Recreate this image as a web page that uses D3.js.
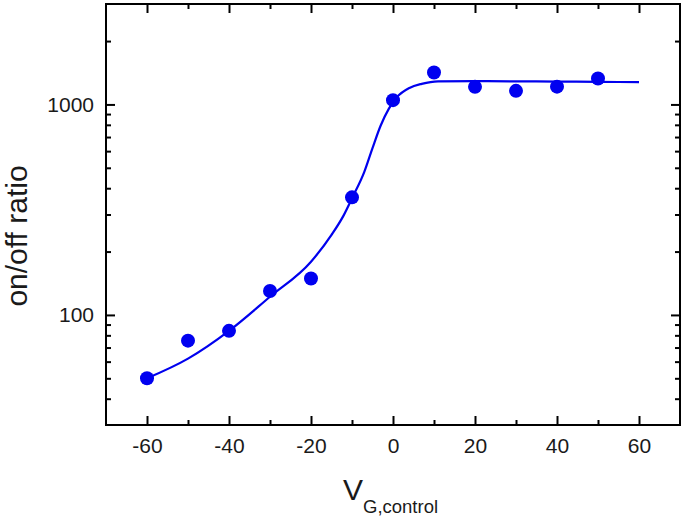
<!DOCTYPE html>
<html>
<head>
<meta charset="utf-8">
<script src="https://cdn.jsdelivr.net/npm/d3@7"></script>
<style>
  body { margin: 0; background: #fff; }
  svg { display: block; font-family: Arial, "Liberation Sans", sans-serif; }
</style>
</head>
<body>
<div id="chart"></div>
<script>
// Measured data points
const vgPoints = [-60, -50, -40, -30, -20, -10, 0, 10, 20, 30, 40, 50];
const ratioPoints = [50, 75.5, 84, 130, 149, 362, 1048, 1419, 1212, 1160, 1215, 1328];

// Fit line
const vgFit = [-60, -50, -40, -30, -20, -15, -12, -10, -7, -5, -3, -1, 1, 4, 7, 11, 20, 30, 40, 50, 60];
const ratioFit = [50, 62, 84, 122, 179, 240, 298, 358, 478, 620, 794, 955, 1084, 1197, 1253, 1288, 1290, 1287, 1284, 1280, 1276];

// Ticks
const xMajorTicks = [-60, -40, -20, 0, 20, 40, 60];
const xMinorTicks = [-50, -30, -10, 10, 30, 50];
const yMajorTicks = [100, 1000];
const yMinorTicks = [40, 50, 60, 70, 80, 90, 200, 300, 400, 500, 600, 700, 800, 900, 2000];

const width = 685;
const height = 516;
const margin = { top: 4, right: 5, bottom: 91, left: 106 };

const svg = d3.select("#chart")
    .append("svg")
    .attr("width", width)
    .attr("height", height);

const x = d3.scaleLinear()
    .domain([-70, 70])
    .range([margin.left, width - margin.right]);

const y = d3.scaleLog()
    .domain([30, 3000])
    .range([height - margin.bottom, margin.top]);

const plotH = height - margin.bottom - margin.top;
const plotW = width - margin.right - margin.left;
const plain = d => String(d); // keep ascii hyphen for negatives

// helper: draw an axis and strip its domain line
function addAxis(axis, tx, ty, labels) {
    const g = svg.append("g")
        .attr("transform", `translate(${tx},${ty})`)
        .call(axis);
    g.select(".domain").remove();
    g.selectAll(".tick line").attr("stroke", "#000").attr("stroke-width", 2);
    g.selectAll("text")
        .attr("fill", "#1a1a1a")
        .style("font-size", "21px");
    if (!labels) g.selectAll("text").remove();
    return g;
}

const yb = height - margin.bottom;
const xr = width - margin.right;

// bottom
addAxis(d3.axisBottom(x).tickValues(xMajorTicks).tickSize(-9).tickPadding(13).tickFormat(plain), 0, yb, true);
addAxis(d3.axisBottom(x).tickValues(xMinorTicks).tickSize(-5), 0, yb, false);
// top
addAxis(d3.axisTop(x).tickValues(xMajorTicks).tickSize(-9), 0, margin.top, false);
addAxis(d3.axisTop(x).tickValues(xMinorTicks).tickSize(-5), 0, margin.top, false);
// left
addAxis(d3.axisLeft(y).tickValues(yMajorTicks).tickSize(-9).tickPadding(12).tickFormat(plain), margin.left, 0, true);
addAxis(d3.axisLeft(y).tickValues(yMinorTicks).tickSize(-5), margin.left, 0, false);
// right
addAxis(d3.axisRight(y).tickValues(yMajorTicks).tickSize(-9), xr, 0, false);
addAxis(d3.axisRight(y).tickValues(yMinorTicks).tickSize(-5), xr, 0, false);

// frame
svg.append("rect")
    .attr("x", margin.left)
    .attr("y", margin.top)
    .attr("width", plotW)
    .attr("height", plotH)
    .attr("fill", "none")
    .attr("stroke", "#000")
    .attr("stroke-width", 2);

// fit line
const fitData = vgFit.map((v, i) => ({ v, r: ratioFit[i] }));
svg.append("path")
    .datum(fitData)
    .attr("fill", "none")
    .attr("stroke", "#0000ee")
    .attr("stroke-width", 2.2)
    .attr("d", d3.line()
        .x(d => x(d.v))
        .y(d => y(d.r))
        .curve(d3.curveMonotoneX));

// points
svg.selectAll("circle.pt")
    .data(vgPoints.map((v, i) => ({ v, r: ratioPoints[i] })))
    .enter()
    .append("circle")
    .attr("class", "pt")
    .attr("cx", d => x(d.v))
    .attr("cy", d => y(d.r))
    .attr("r", 7)
    .attr("fill", "#0000f0");

// axis titles
svg.append("text")
    .attr("transform", "translate(27,236) rotate(-90)")
    .attr("text-anchor", "middle")
    .attr("fill", "#1a1a1a")
    .style("font-size", "30px")
    .text("on/off ratio");

const xt = svg.append("text")
    .attr("x", 343)
    .attr("y", 500)
    .attr("fill", "#1a1a1a")
    .style("font-size", "30px");
xt.append("tspan").text("V");
xt.append("tspan")
    .attr("dy", 12.5)
    .style("font-size", "18.5px")
    .text("G,control");
</script>
</body>
</html>
